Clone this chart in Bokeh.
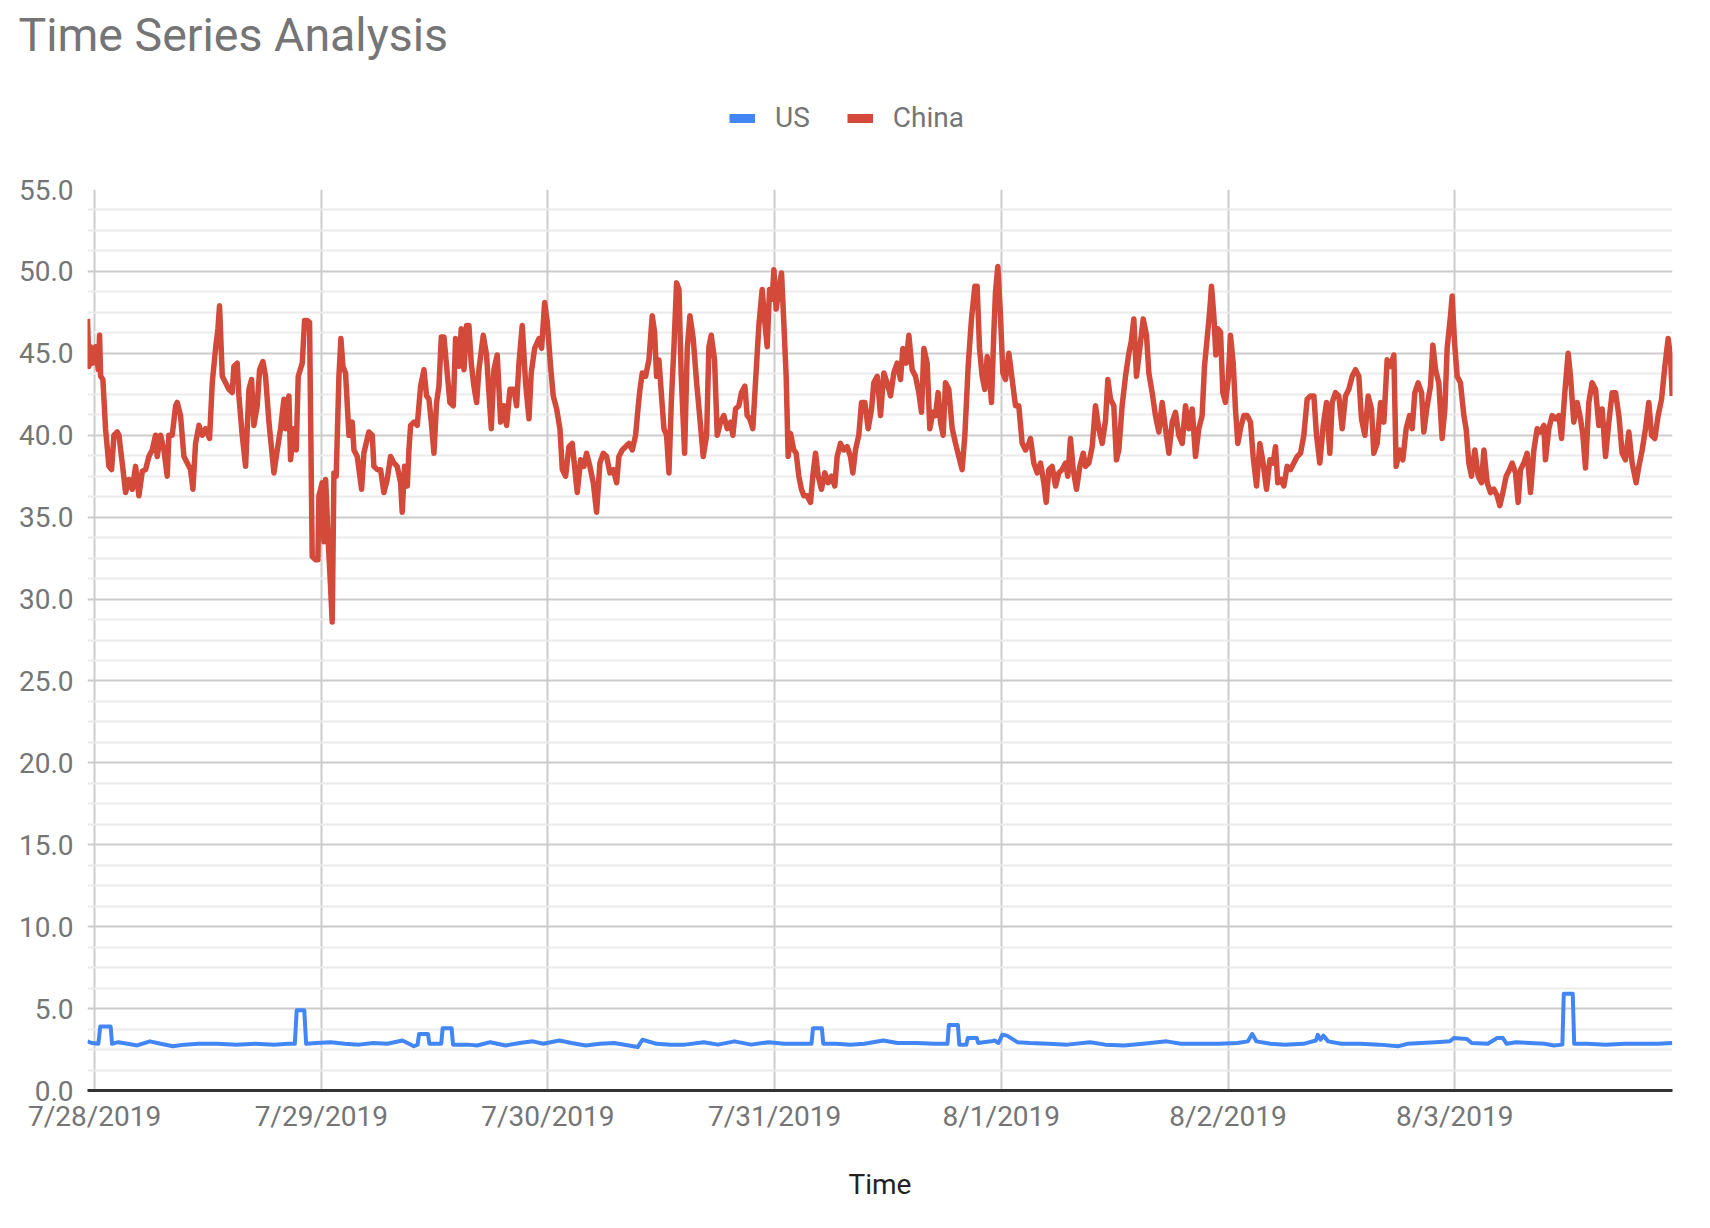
import pandas as pd
from bokeh.plotting import figure
from bokeh.layouts import column
from bokeh.models import (FixedTicker, PrintfTickFormatter, DatetimeTickFormatter,
                          Legend, LegendItem, Range1d, ColumnDataSource)
from bokeh.embed import file_html
from bokeh.resources import INLINE

# ---------------- data ----------------
START = "2019-07-28 00:00"
TITLE = "Time Series Analysis"
X_TITLE = "Time"
SERIES = ["US", "China"]
X_TICK_LABELS = ["7/28/2019", "7/29/2019", "7/30/2019", "7/31/2019",
                 "8/1/2019", "8/2/2019", "8/3/2019"]
Y_TICKS = [0, 5, 10, 15, 20, 25, 30, 35, 40, 45, 50, 55]
X_START_H = -0.75
X_END_H = 167.06

# hours since 7/28/2019 00:00
US_HOURS = [-0.75, -0.3, 0.4, 0.6, 1.7, 1.85, 2.5, 3.5, 4.5, 5.85, 7.0, 8.3, 9.5, 11, 13, 15, 17, 19,
            20.5, 21.2, 21.4, 22.2, 22.4, 23.5, 25, 26.5, 28, 29.5, 31, 32.6, 33.8, 34.2, 34.35,
            35.3, 35.45, 36.7, 36.85, 37.8, 37.95, 39.5, 40.5, 41.9, 43.5, 45, 46.4, 47.5, 49.2,
            50.5, 52, 53.5, 55, 57.5, 58.0, 59.5, 61, 62.5, 64.5, 66, 67.75, 69.5, 71.4, 73, 74.5,
            75.9, 76.06, 77.0, 77.15, 78.5, 80, 81.5, 83.5, 85, 87, 89, 90.3, 90.45, 91.4, 91.55,
            92.3, 92.45, 93.4, 93.55, 94.9, 95.3, 95.7, 96.1, 96.6, 97.7, 99, 101, 103, 105.4,
            107, 109, 111, 113.5, 115, 117, 119, 121, 122.1, 122.56, 123, 124.5, 126, 128, 129.3,
            129.5, 129.8, 130.1, 130.6, 132, 134, 136, 138, 139, 140.5, 142, 143.5, 143.9, 145.3,
            145.8, 147.5, 148.5, 149.1, 149.5, 150.5, 152, 153.5, 154.5, 155.4, 155.55, 156.5,
            156.65, 158, 160, 162, 164, 165.5, 167.03]
US_VALUES = [3.0, 2.9, 2.85, 3.9, 3.9, 2.85, 2.95, 2.85, 2.75, 3.0, 2.85, 2.7, 2.8, 2.85, 2.85, 2.8,
             2.85, 2.8, 2.85, 2.85, 4.9, 4.9, 2.85, 2.9, 2.95, 2.85, 2.8, 2.9, 2.85, 3.05, 2.7, 2.8,
             3.45, 3.45, 2.85, 2.85, 3.8, 3.8, 2.8, 2.8, 2.75, 2.95, 2.75, 2.9, 3.0, 2.85, 3.05,
             2.9, 2.75, 2.85, 2.9, 2.65, 3.1, 2.85, 2.8, 2.8, 2.95, 2.8, 3.0, 2.8, 2.95, 2.85, 2.85,
             2.85, 3.8, 3.8, 2.85, 2.85, 2.8, 2.85, 3.05, 2.9, 2.9, 2.85, 2.85, 4.0, 4.0, 2.8,
             2.8, 3.2, 3.2, 2.9, 3.0, 3.05, 2.9, 3.4, 3.35, 2.95, 2.9, 2.85, 2.8, 2.95,
             2.8, 2.75, 2.85, 3.0, 2.85, 2.85, 2.85, 2.9, 3.0, 3.45, 3.0, 2.85, 2.8, 2.85, 3.05,
             3.4, 3.1, 3.35, 3.0, 2.85, 2.85, 2.8, 2.7, 2.85, 2.9, 2.95, 3.0, 3.2, 3.15,
             2.9, 2.85, 3.2, 3.2, 2.85, 2.95, 2.9, 2.85, 2.75, 2.8, 5.9, 5.9,
             2.85, 2.85, 2.8, 2.85, 2.85, 2.85, 2.9]

CHINA_HOURS = [
    -0.75, -0.60, -0.42, -0.18, 0.11, 0.39, 0.53, 0.64, 0.88, 1.16, 1.52, 1.80, 2.05, 2.40, 2.58,
    2.93, 3.28, 3.63, 3.99, 4.34, 4.69, 5.05, 5.40, 5.75, 6.10, 6.46, 6.63, 6.99, 7.34, 7.69, 7.87,
    8.22, 8.58, 8.75, 9.10, 9.46, 9.81, 10.16, 10.41, 10.69, 11.05, 11.40, 11.75, 12.17, 12.46,
    12.81, 13.06, 13.23, 13.52, 13.87, 14.22, 14.57, 14.75, 15.10, 15.28, 15.63, 15.99, 16.34,
    16.62, 16.87, 17.22, 17.47, 17.82, 18.10, 18.46, 18.99, 19.34, 19.69, 20.05, 20.22, 20.57,
    20.75, 21.10, 21.35, 21.56, 21.99, 22.23, 22.51, 22.76, 22.87, 23.04, 23.40, 23.64, 23.75,
    24.10, 24.28, 24.46, 24.74, 24.98, 25.16, 25.34, 25.58, 25.87, 26.08, 26.29, 26.57, 26.93,
    27.28, 27.46, 27.81, 28.27, 28.51, 29.04, 29.40, 29.57, 29.93, 30.28, 30.63, 30.98, 31.34,
    31.69, 32.04, 32.40, 32.57,
    32.82, 33.11, 33.28, 33.46, 33.81, 34.16, 34.52, 34.87, 35.15, 35.40, 35.65, 35.93, 36.21,
    36.46, 36.71, 36.99, 37.27, 37.62, 37.98, 38.22, 38.58, 38.82, 39.11, 39.39, 39.63, 39.88,
    40.16, 40.45, 40.69, 41.15, 41.50, 41.75, 42.00, 42.28, 42.63, 42.99, 43.34, 43.62, 43.98,
    44.40, 44.68, 44.93, 45.28, 45.63, 45.99, 46.23, 46.59, 47.05, 47.33, 47.65, 47.93, 48.28,
    48.56, 48.92, 49.27, 49.52, 49.87, 50.22, 50.57, 50.82, 51.10, 51.46, 51.81, 52.09, 52.44,
    52.80, 53.15, 53.50, 53.86, 54.21, 54.56, 54.92, 55.27, 55.51, 55.87, 56.22, 56.57, 56.93,
    57.28, 57.53, 57.74, 57.99, 58.34, 58.69, 59.04, 59.29, 59.50, 59.75, 60.00, 60.28, 60.56,
    60.81, 61.06, 61.34, 61.62, 61.87, 62.11, 62.47, 62.75, 63.03, 63.38, 63.74, 64.09, 64.44,
    64.80, 65.04, 65.29, 65.64,
    65.92, 66.27, 66.62, 66.98, 67.33, 67.58, 67.86, 68.21, 68.49, 68.85, 69.09, 69.37, 69.69,
    69.97, 70.33, 70.68, 70.96, 71.21, 71.46, 71.74, 71.92, 72.16, 72.45, 72.73, 72.97, 73.22,
    73.43, 73.68, 74.03, 74.28, 74.56, 74.84, 75.09, 75.44, 75.80, 76.04, 76.33, 76.61, 76.96,
    77.31, 77.67, 78.02, 78.37, 78.62, 78.97, 79.33, 79.68, 80.03, 80.28, 80.56, 80.91, 81.20,
    81.55, 81.90, 82.26, 82.50, 82.86, 83.21, 83.56, 83.91, 84.27, 84.62, 84.97, 85.33, 85.57,
    85.93, 86.21, 86.56, 86.91, 87.27, 87.55, 87.80, 88.15, 88.43, 88.75, 89.03, 89.31, 89.56,
    89.84, 90.09, 90.44, 90.80, 91.15, 91.50, 91.85, 92.14, 92.49, 92.84, 93.20, 93.44, 93.69,
    93.97, 94.25, 94.50, 94.75, 94.96, 95.21, 95.38, 95.63, 95.91, 96.16, 96.44, 96.80, 97.15,
    97.50, 97.85, 98.21, 98.56, 98.91,
    99.09, 99.44, 99.80, 100.15, 100.50, 100.75, 101.03, 101.38, 101.74, 102.09, 102.44, 102.80,
    103.04, 103.32, 103.61, 103.96, 104.31, 104.67, 104.91, 105.27, 105.62, 105.97, 106.32,
    106.68, 107.03, 107.28, 107.56, 107.91, 108.19, 108.44, 108.79, 109.15, 109.50, 109.75,
    110.03, 110.31, 110.66, 111.02, 111.37, 111.62, 111.97, 112.32, 112.68, 113.03, 113.38,
    113.74, 114.09, 114.44, 114.79, 115.15, 115.50, 115.85, 116.21, 116.56, 116.91, 117.26,
    117.51, 117.79, 118.08, 118.25, 118.50, 118.71, 118.92, 119.21, 119.45, 119.73, 120.02,
    120.26, 120.55, 120.79, 121.04, 121.32, 121.68, 122.03, 122.38, 122.66, 123.02, 123.37,
    123.72, 124.08, 124.43, 124.78, 125.03, 125.27, 125.63, 125.91, 126.26, 126.62, 126.97,
    127.32, 127.68, 128.03, 128.38, 128.73, 129.09, 129.37, 129.72, 130.08, 130.43, 130.78,
    131.03, 131.38, 131.73, 132.09,
    132.44, 132.79, 133.15, 133.50, 133.85, 134.13, 134.49, 134.84, 135.19, 135.44, 135.79,
    136.15, 136.50, 136.85, 137.20, 137.56, 137.80, 138.16, 138.51, 138.86, 139.22, 139.50,
    139.78, 140.13, 140.49, 140.73, 141.09, 141.44, 141.69, 141.97, 142.32, 142.67, 142.96,
    143.20, 143.56, 143.73, 143.98, 144.26, 144.61, 144.97, 145.21, 145.50, 145.78, 146.13,
    146.49, 146.84, 147.09, 147.44, 147.79, 148.14, 148.50, 148.78, 149.10, 149.45, 149.80,
    150.09, 150.44, 150.72, 150.97, 151.32, 151.67, 152.03, 152.38, 152.73, 153.08, 153.44,
    153.61, 153.97, 154.32, 154.67, 155.03, 155.31, 155.66, 156.01, 156.26, 156.61, 156.97,
    157.32, 157.57, 157.85, 158.20, 158.55, 158.91, 159.26, 159.61, 159.97, 160.32, 160.67,
    161.03, 161.38, 161.73, 162.08, 162.44, 162.79, 163.21, 163.50, 163.85, 164.20, 164.55,
    164.84, 165.19, 165.54, 165.90, 166.25, 166.60, 166.85, 167.03]
CHINA_VALUES = [
    47.1, 44.2, 45.4, 44.4, 45.4, 44.0, 46.1, 43.6, 43.4, 40.4, 38.1, 37.9, 40.0, 40.2, 40.0,
    38.3, 36.5, 37.3, 36.7, 38.1, 36.3, 37.8, 37.9, 38.7, 39.1, 40.0, 38.7, 40.0, 39.1, 37.5, 40.0,
    40.0, 41.8, 42.0, 41.2, 38.7, 38.3, 37.9, 36.7, 39.5, 40.6, 40.0, 40.4, 39.8, 43.2,
    45.3, 46.5, 47.9, 43.6, 43.2, 42.8, 42.6, 44.2, 44.4, 42.4, 40.0, 38.1, 42.8,
    43.4, 40.6, 41.8, 44.0, 44.5, 43.6, 40.8, 37.7, 39.1, 40.4, 42.2, 40.4, 42.4,
    38.5, 40.4, 39.1, 43.6, 44.4, 47.0, 47.0, 46.9, 41.2, 32.6, 32.4, 32.4, 36.3,
    37.1, 33.5, 37.3, 33.5, 30.8, 28.6, 37.7, 37.5, 43.6, 45.9, 44.2, 43.8, 40.0,
    40.8, 39.1, 38.7, 36.7, 38.9, 40.2, 40.0, 38.1, 37.9, 37.9, 36.5, 37.3, 38.7,
    38.3, 38.1, 37.1, 35.3,
    38.1, 36.9, 39.1, 40.6, 40.8, 40.6, 43.0, 44.0, 42.4, 42.2, 40.8, 38.9, 42.0,
    43.0, 46.0, 46.0, 44.2, 42.0, 41.8, 45.9, 44.2, 46.5, 44.0, 46.7, 46.7, 44.4,
    43.0, 42.0, 44.0, 46.1, 44.9, 42.6, 40.4, 44.0, 44.9, 40.8, 41.8, 40.6, 42.8,
    42.8, 41.8, 44.4, 46.7, 43.2, 41.0, 43.8, 45.3, 45.9, 45.3, 48.1, 46.9, 44.2,
    42.4, 41.6, 40.4, 37.9, 37.5, 39.3, 39.5, 38.1, 36.5, 38.5, 38.1, 38.9, 38.1,
    37.1, 35.3, 38.3, 38.9, 38.7, 37.7, 37.9, 37.1, 38.7, 39.1, 39.3, 39.5, 39.1,
    40.0, 41.6, 42.8, 43.8, 43.6, 44.6, 47.3, 46.3, 43.6, 44.6, 42.6, 40.4, 40.0,
    37.7, 42.0, 45.4, 49.3, 48.9, 43.6, 38.9, 45.3, 47.3, 45.9, 43.2, 41.0, 38.7,
    40.0, 45.4, 46.1, 44.6,
    40.0, 40.8, 41.2, 40.4, 40.8, 40.0, 41.6, 41.8, 42.6, 43.0, 41.2, 41.0, 40.4,
    43.2, 46.7, 48.9, 46.9, 45.4, 48.9, 48.3, 50.1, 47.7, 48.9, 49.9, 46.9, 43.6,
    38.7, 40.1, 39.1, 38.9, 37.5, 36.7, 36.3, 36.3, 35.9, 37.5, 38.9, 37.5, 36.7,
    37.7, 37.1, 37.5, 36.9, 38.7, 39.5, 39.1, 39.3, 38.7, 37.7, 39.1, 40.0, 42.0,
    42.0, 40.4, 41.6, 43.2, 43.6, 41.2, 43.8, 43.2, 42.4, 43.8, 44.4, 43.4, 45.3,
    44.4, 46.1, 44.0, 43.6, 42.6, 41.4, 45.3, 44.4, 40.4, 41.4, 41.2, 42.6, 40.8,
    40.0, 43.2, 42.8, 40.4, 39.5, 38.7, 37.9, 40.0, 44.2, 47.1, 49.1, 49.1, 45.3,
    43.6, 42.8, 44.8, 43.6, 42.0, 46.3, 48.7, 50.3, 47.3, 43.8, 43.4, 45.0, 43.4,
    41.8, 41.8, 39.5, 39.1, 39.5,
    39.8, 38.3, 37.7, 38.3, 37.1, 35.9, 37.9, 38.1, 36.9, 37.7, 37.9, 38.3,
    37.5, 39.8, 37.9, 36.7, 38.1, 38.9, 38.1, 38.3, 39.3, 41.8, 40.4,
    39.5, 40.9, 43.4, 42.2, 41.8, 38.5, 39.1, 41.8, 43.6, 45.0, 45.7,
    47.1, 43.6, 45.3, 47.1, 46.1, 43.8, 42.6, 41.2, 40.2, 42.0, 40.4,
    38.9, 40.8, 41.4, 40.0, 39.5, 41.8, 40.4, 41.6, 38.7, 40.4, 41.2,
    44.2, 45.9, 47.7, 49.1, 47.3, 44.9, 46.5, 46.3, 42.6, 42.0, 43.4,
    46.1, 44.4, 41.6, 39.5, 40.4, 41.2, 41.2, 40.8, 38.7, 36.9, 39.5,
    38.3, 36.7, 38.5, 38.3, 39.3, 37.1, 37.3, 36.9, 38.1, 37.9, 38.3,
    38.7, 38.9, 40.0, 42.2, 42.4, 42.4, 40.0, 38.3, 40.6, 42.0, 38.9,
    42.0, 42.6, 42.4, 40.4,
    42.4, 42.8, 43.6, 44.0, 43.6, 41.0, 40.0, 42.4, 41.6, 38.9, 39.5,
    42.0, 40.8, 44.6, 44.2, 44.9, 38.1, 39.1, 38.5, 40.4, 41.2, 40.4,
    42.6, 43.2, 42.6, 40.2, 41.8, 43.0, 45.5, 44.0, 43.2, 39.8, 41.6,
    45.3, 47.3, 48.5, 45.7, 43.6, 43.2, 41.2, 40.4, 38.3, 37.5, 39.1,
    37.5, 37.1, 39.1, 37.1, 36.5, 36.7, 36.3, 35.7, 36.5, 37.5, 37.9,
    38.3, 37.7, 35.9, 37.9, 38.3, 38.9, 36.5, 39.1, 40.4, 40.2, 40.6,
    38.5, 40.4, 41.2, 41.0, 41.2, 39.8, 42.6, 45.0, 43.6, 40.8, 42.0,
    41.0, 40.0, 38.0, 42.0, 43.2, 42.8, 40.6, 41.6, 38.7, 40.8, 42.6,
    42.6, 41.2, 38.9, 38.5, 40.2, 38.3, 37.1, 38.1, 39.1, 40.4, 42.0,
    40.0, 39.8, 41.2, 42.2, 44.2, 45.9, 44.8, 42.4]

# ---------------- helpers ----------------
start = pd.Timestamp(START)


def to_dt(hours):
    return start + pd.to_timedelta(pd.Series(hours, dtype=float), unit="h")


tick_ms = [int((start + pd.Timedelta(days=i)).value // 10**6) for i in range(len(X_TICK_LABELS))]

us_src = ColumnDataSource(dict(t=to_dt(US_HOURS), v=US_VALUES))
cn_src = ColumnDataSource(dict(t=to_dt(CHINA_HOURS), v=CHINA_VALUES))

GREY = "#757575"
FONT = "Roboto"
BLUE = "#4285f4"
RED = "#d3493a"
W = 1705
H = 1220
HEAD_H = 150
FRAME_L, FRAME_R, FRAME_T = 87, 1672, 189

# ---------------- header: title + legend ----------------
head = figure(width=W, height=HEAD_H, x_range=Range1d(0, 1), y_range=Range1d(0, 1),
              output_backend="svg", toolbar_location=None,
              x_axis_location=None, y_axis_location=None,
              min_border_left=FRAME_L, min_border_right=W - FRAME_R,
              min_border_top=61, min_border_bottom=0)
head.grid.visible = False
head.outline_line_color = None
head.background_fill_color = "white"
head.border_fill_color = "white"

head.title.text = TITLE
head.title.align = "left"
head.title.vertical_align = "bottom"
head.title.offset = 20 - FRAME_L - 2
head.title.standoff = 0
head.title.text_font = FONT
head.title.text_font_size = "46.5px"
head.title.text_font_style = "normal"
head.title.text_color = GREY

nan = float("nan")
us_key = head.line(x=[nan], y=[nan], line_color=BLUE, line_width=9)
cn_key = head.line(x=[nan], y=[nan], line_color=RED, line_width=9)
legend = Legend(items=[LegendItem(label=SERIES[0], renderers=[us_key]),
                       LegendItem(label=SERIES[1], renderers=[cn_key])],
                location=(729 - FRAME_L, HEAD_H - 134), orientation="horizontal",
                glyph_width=26, glyph_height=32, label_height=32, label_standoff=20, spacing=37,
                padding=0, margin=0, border_line_color=None, background_fill_alpha=0,
                label_text_font=FONT, label_text_font_size="28px", label_text_color=GREY,
                label_text_baseline="middle")
head.add_layout(legend)

# ---------------- main chart ----------------
p = figure(width=W, height=H - HEAD_H, x_axis_type="datetime",
           x_range=Range1d(start + pd.Timedelta(hours=X_START_H), start + pd.Timedelta(hours=X_END_H)),
           y_range=Range1d(0, 55),
           output_backend="svg", toolbar_location=None,
           min_border_left=FRAME_L, min_border_right=W - FRAME_R, min_border_top=FRAME_T - HEAD_H,
           min_border_bottom=130)
p.outline_line_color = None
p.background_fill_color = "white"
p.border_fill_color = "white"

# grids
p.xgrid.ticker = FixedTicker(ticks=tick_ms)
p.xgrid.grid_line_color = "#cccccc"
p.xgrid.grid_line_width = 2
minor = [k * 1.25 for k in range(45) if k % 4]
yticker = FixedTicker(ticks=Y_TICKS, minor_ticks=minor)
p.yaxis.ticker = yticker
p.ygrid.ticker = yticker
p.ygrid.grid_line_color = "#cccccc"
p.ygrid.grid_line_width = 2
p.ygrid.minor_grid_line_color = "#ebebeb"
p.ygrid.minor_grid_line_width = 2

# y axis
p.yaxis.formatter = PrintfTickFormatter(format="%.1f")
p.yaxis.axis_line_color = None
p.yaxis.major_tick_line_color = None
p.yaxis.minor_tick_line_color = None
p.yaxis.major_tick_out = 0
p.yaxis.minor_tick_out = 0
p.yaxis.major_label_text_font = FONT
p.yaxis.major_label_text_font_size = "28px"
p.yaxis.major_label_text_color = GREY
p.yaxis.major_label_standoff = 14

# x axis
p.xaxis.ticker = FixedTicker(ticks=tick_ms)
p.xaxis.formatter = DatetimeTickFormatter(days="%-m/%-d/%Y", months="%-m/%-d/%Y", hours="%-m/%-d/%Y")
p.xaxis.major_label_overrides = {ms: lab for ms, lab in zip(tick_ms, X_TICK_LABELS)}
p.xaxis.axis_line_color = "#333333"
p.xaxis.axis_line_width = 3
p.xaxis.major_tick_line_color = None
p.xaxis.minor_tick_line_color = None
p.xaxis.major_tick_out = 0
p.xaxis.minor_tick_out = 0
p.xaxis.major_label_text_font = FONT
p.xaxis.major_label_text_font_size = "28px"
p.xaxis.major_label_text_color = GREY
p.xaxis.major_label_standoff = 9
p.xaxis.axis_label = X_TITLE
p.xaxis.axis_label_text_font = FONT
p.xaxis.axis_label_text_font_size = "28px"
p.xaxis.axis_label_text_font_style = "normal"
p.xaxis.axis_label_text_color = "#222222"
p.xaxis.axis_label_standoff = 32

# series
p.line(x="t", y="v", source=us_src, line_color=BLUE, line_width=4, line_join="round")
p.line(x="t", y="v", source=cn_src, line_color=RED, line_width=5.5, line_join="round")

page = column(head, p, spacing=0)
open("out.html", "w").write(file_html(page, INLINE))
